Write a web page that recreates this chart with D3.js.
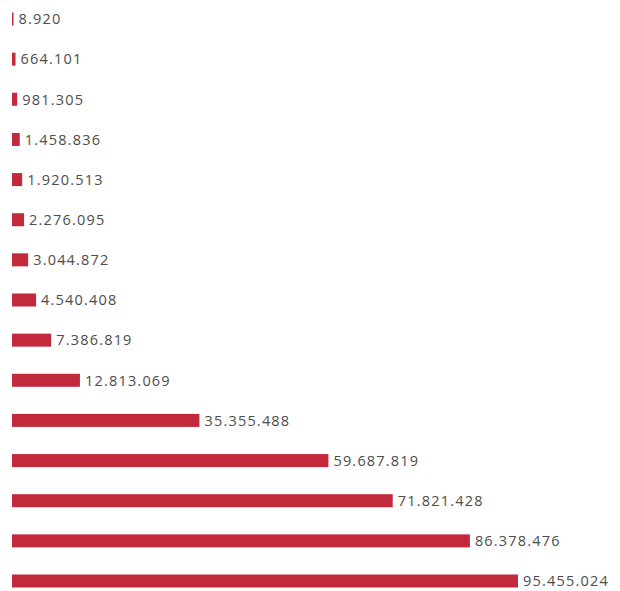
<!DOCTYPE html>
<html><head><meta charset="utf-8">
<script src="https://cdn.jsdelivr.net/npm/d3@7"></script>
<style>body{margin:0;background:#fff}svg{display:block}</style>
</head><body>
<svg id="c" width="620" height="591"></svg>
<script>
const categories = ["r1","r2","r3","r4","r5","r6","r7","r8","r9","r10","r11","r12","r13","r14","r15"];
const values = [8920, 664101, 981305, 1458836, 1920513, 2276095, 3044872, 4540408, 7386819, 12813069, 35355488, 59687819, 71821428, 86378476, 95455024];

const svg = d3.select("#c");
const x = d3.scaleLinear().domain([0, 95455024]).range([12, 518]);
const y = d3.scalePoint().domain(categories).range([19, 581]);
const barH = 13;
const fmt = d3.formatLocale({decimal:",", thousands:".", grouping:[3], currency:["",""]}).format(",d");

svg.selectAll("rect.bar").data(values).join("rect")
  .attr("x", x(0))
  .attr("y", (d,i) => y(categories[i]) - barH/2)
  .attr("width", d => Math.max(1.5, x(d) - x(0)))
  .attr("height", barH)
  .attr("fill", "#c2293b");

svg.selectAll("text.lab").data(values).join("text")
  .attr("x", d => x(0) + Math.max(1.5, x(d) - x(0)) + 5)
  .attr("y", (d,i) => y(categories[i]))
  .attr("dy", "0.36em")
  .attr("font-family", "'Open Sans', sans-serif")
  .attr("font-size", 14.5)
  .attr("letter-spacing", "1.2px")
  .attr("fill", "#4d4d4d")
  .text(d => fmt(d));
</script>
</body></html>
